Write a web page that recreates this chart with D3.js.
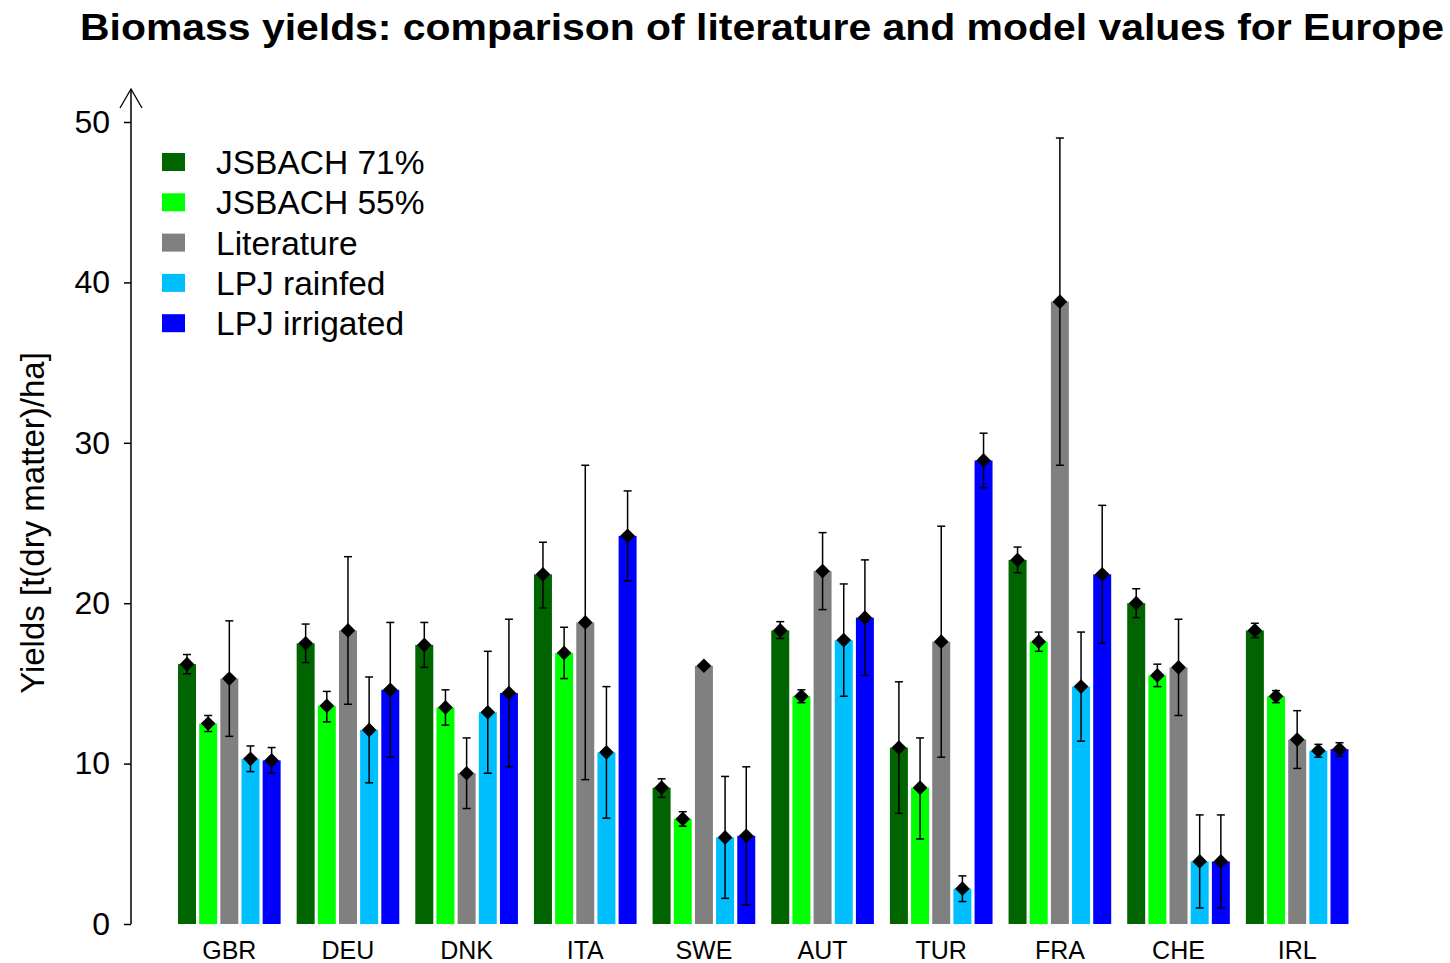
<!DOCTYPE html>
<html>
<head>
<meta charset="utf-8">
<script src="https://cdn.jsdelivr.net/npm/d3@7"></script>
<style>
  body { margin: 0; background: #fff; }
  text { font-family: "Liberation Sans", Arial, sans-serif; fill: #000; }
</style>
</head>
<body>
<script>
const countries = ["GBR", "DEU", "DNK", "ITA", "SWE", "AUT", "TUR", "FRA", "CHE", "IRL"];
const seriesNames = ["JSBACH 71%", "JSBACH 55%", "Literature", "LPJ rainfed", "LPJ irrigated"];
const seriesColors = ["#006400", "#00ff00", "#808080", "#00bfff", "#0000ff"];

// values and error ranges, one array per series, in country order
const jsbach71   = [16.2, 17.5, 17.4, 21.8, 8.5, 18.3, 11.0, 22.7, 20.0, 18.3];
const jsbach71Lo = [15.6, 16.3, 16.0, 19.7, 7.9, 17.8, 6.9, 21.9, 19.1, 17.85];
const jsbach71Hi = [16.8, 18.7, 18.8, 23.8, 9.05, 18.85, 15.1, 23.5, 20.9, 18.75];

const jsbach55   = [12.5, 13.6, 13.5, 16.9, 6.55, 14.2, 8.5, 17.6, 15.5, 14.2];
const jsbach55Lo = [12.0, 12.6, 12.4, 15.3, 6.1, 13.8, 5.3, 17.0, 14.8, 13.8];
const jsbach55Hi = [13.0, 14.5, 14.6, 18.5, 7.0, 14.6, 11.6, 18.2, 16.2, 14.55];

const literature   = [15.3, 18.3, 9.4, 18.8, 16.1, 22.0, 17.6, 38.8, 16.0, 11.5];
const literatureLo = [11.7, 13.7, 7.2, 9.0, 16.1, 19.6, 10.4, 28.6, 13.0, 9.7];
const literatureHi = [18.9, 22.9, 11.6, 28.6, 16.1, 24.4, 24.8, 49.0, 19.0, 13.3];

const lpjRainfed   = [10.3, 12.1, 13.2, 10.7, 5.4, 17.7, 2.2, 14.8, 3.9, 10.8];
const lpjRainfedLo = [9.5, 8.8, 9.4, 6.6, 1.6, 14.2, 1.4, 11.4, 1.0, 10.4];
const lpjRainfedHi = [11.1, 15.4, 17.0, 14.8, 9.2, 21.2, 3.0, 18.2, 6.8, 11.2];

const lpjIrrigated   = [10.2, 14.6, 14.4, 24.2, 5.5, 19.1, 28.9, 21.8, 3.9, 10.9];
const lpjIrrigatedLo = [9.4, 10.4, 9.8, 21.4, 1.2, 15.5, 27.2, 17.5, 1.0, 10.45];
const lpjIrrigatedHi = [11.0, 18.8, 19.0, 27.0, 9.8, 22.7, 30.6, 26.1, 6.8, 11.3];

const yTicks = [0, 10, 20, 30, 40, 50];

const seriesVals = [jsbach71, jsbach55, literature, lpjRainfed, lpjIrrigated];
const seriesLo = [jsbach71Lo, jsbach55Lo, literatureLo, lpjRainfedLo, lpjIrrigatedLo];
const seriesHi = [jsbach71Hi, jsbach55Hi, literatureHi, lpjRainfedHi, lpjIrrigatedHi];

const width = 1450, height = 963;
const axisX = 131;

let svg = d3.select("body")
    .append("svg")
    .attr("width", width)
    .attr("height", height);

let y = d3.scaleLinear().domain([0, 50]).range([924, 122]);
let x0 = d3.scaleBand().domain(countries).range([178, 1348.5]).paddingInner(0.135).paddingOuter(0);
let x1 = d3.scaleBand().domain(seriesNames).range([0, x0.bandwidth()]).paddingInner(0.15).paddingOuter(0);

// flatten into records
let records = [];
countries.forEach((c, i) => {
    seriesNames.forEach((s, j) => {
        records.push({country: c, series: s, color: seriesColors[j],
            value: seriesVals[j][i], lo: seriesLo[j][i], hi: seriesHi[j][i]});
    });
});

// title
svg.append("text")
    .text("Biomass yields: comparison of literature and model values for Europe")
    .attr("x", 762)
    .attr("y", 40)
    .attr("text-anchor", "middle")
    .attr("textLength", 1364)
    .attr("lengthAdjust", "spacingAndGlyphs")
    .style("font-weight", "bold")
    .style("font-size", "36px");

// y axis
let yAxis = d3.axisLeft(y).tickValues(yTicks).tickSize(7).tickPadding(14);
let gAxis = svg.append("g")
    .attr("transform", "translate(" + axisX + ",0)")
    .call(yAxis);
gAxis.select(".domain").remove();
gAxis.selectAll("line").attr("stroke", "#000").attr("stroke-width", 1.5);
gAxis.selectAll("text").style("font-size", "32px").style("font-family", "Liberation Sans, Arial, sans-serif");

svg.append("line")
    .attr("x1", axisX).attr("x2", axisX)
    .attr("y1", y(0)).attr("y2", 89)
    .attr("stroke", "#000").attr("stroke-width", 1.5);
svg.append("path")
    .attr("d", "M" + (axisX - 11) + ",108 L" + axisX + ",89 L" + (axisX + 11) + ",108")
    .attr("fill", "none").attr("stroke", "#000").attr("stroke-width", 1.3);

svg.append("text")
    .text("Yields [t(dry matter)/ha]")
    .attr("transform", "translate(44,523) rotate(-90)")
    .attr("text-anchor", "middle")
    .style("font-size", "33px");

// bars
let groups = svg.append("g")
    .selectAll("g")
    .data(countries)
    .enter()
    .append("g")
    .attr("transform", d => "translate(" + x0(d) + ",0)");

groups.selectAll("rect")
    .data(c => records.filter(r => r.country === c))
    .enter()
    .append("rect")
    .attr("x", d => x1(d.series))
    .attr("y", d => y(d.value))
    .attr("width", x1.bandwidth())
    .attr("height", d => y(0) - y(d.value))
    .attr("fill", d => d.color);

// error bars
let err = groups.selectAll("g.err")
    .data(c => records.filter(r => r.country === c && r.hi > r.lo))
    .enter()
    .append("g")
    .attr("class", "err")
    .attr("stroke", "#000")
    .attr("stroke-width", 1.5);
const cx = d => x1(d.series) + x1.bandwidth() / 2;
err.append("line")
    .attr("x1", cx).attr("x2", cx)
    .attr("y1", d => y(d.lo)).attr("y2", d => y(d.hi));
err.append("line")
    .attr("x1", d => cx(d) - 4).attr("x2", d => cx(d) + 4)
    .attr("y1", d => y(d.lo)).attr("y2", d => y(d.lo));
err.append("line")
    .attr("x1", d => cx(d) - 4).attr("x2", d => cx(d) + 4)
    .attr("y1", d => y(d.hi)).attr("y2", d => y(d.hi));

// diamonds
let diamond = d3.symbol().type(d3.symbolSquare).size(108);
groups.selectAll("path.pt")
    .data(c => records.filter(r => r.country === c))
    .enter()
    .append("path")
    .attr("class", "pt")
    .attr("d", diamond)
    .attr("transform", d => "translate(" + cx(d) + "," + y(d.value) + ") rotate(45)")
    .attr("fill", "#000");

// category labels
groups.append("text")
    .text(d => d)
    .attr("x", x0.bandwidth() / 2)
    .attr("y", 959)
    .attr("text-anchor", "middle")
    .style("font-size", "25px");

// legend
let legend = svg.append("g")
    .selectAll("g")
    .data(seriesNames)
    .enter()
    .append("g")
    .attr("transform", (d, i) => "translate(162," + (162 + i * 40.3) + ")");
legend.append("rect")
    .attr("x", 0).attr("y", -9)
    .attr("width", 23).attr("height", 18)
    .attr("fill", (d, i) => seriesColors[i]);
legend.append("text")
    .text(d => d)
    .attr("x", 54)
    .attr("y", 12)
    .style("font-size", "33.5px");
</script>
</body>
</html>
